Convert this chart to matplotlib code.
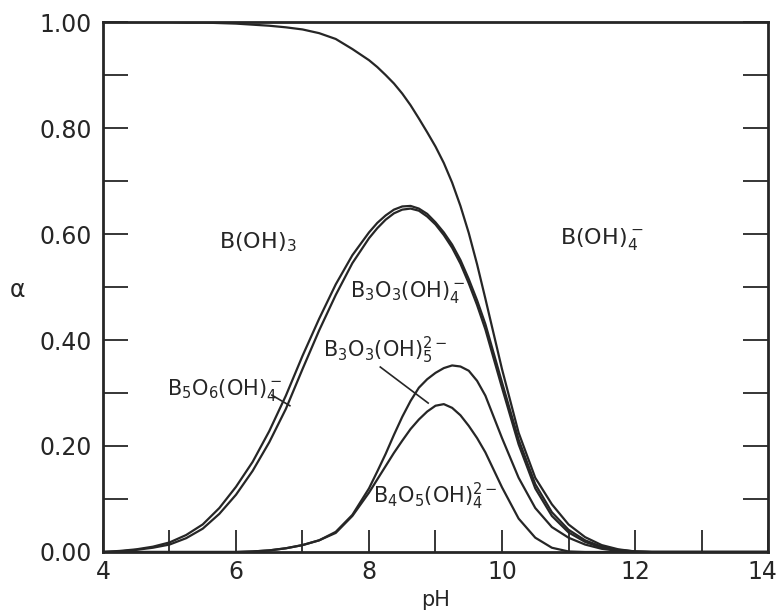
import numpy as np
import matplotlib.pyplot as plt
from matplotlib.ticker import MultipleLocator, FormatStrFormatter, FuncFormatter

plt.rcParams['font.family'] = ['DejaVu Sans']
plt.rcParams['mathtext.default'] = 'regular'

# pH grid (finer around the peaks)
ph = [4.0, 4.25, 4.5, 4.75, 5.0, 5.25, 5.5, 5.75, 6.0, 6.25, 6.5, 6.75,
      7.0, 7.25, 7.5, 7.75,
      8.0, 8.125, 8.25, 8.375, 8.5, 8.625, 8.75, 8.875, 9.0, 9.125, 9.25, 9.375, 9.5, 9.625, 9.75,
      10.0, 10.25, 10.5, 10.75, 11.0, 11.25, 11.5, 11.75, 12.0, 12.25, 12.5, 14.0]

# cumulative fractions (upper boundary of each region)
top_boh3 = [1.000, 1.000, 1.000, 1.000, 1.000, 0.999, 0.999, 0.998, 0.997, 0.995, 0.993, 0.990,
            0.986, 0.979, 0.968, 0.949,
            0.928, 0.915, 0.900, 0.884, 0.865, 0.843, 0.818, 0.792, 0.765, 0.734, 0.697, 0.653, 0.602, 0.543, 0.478,
            0.345, 0.225, 0.140, 0.090, 0.052, 0.028, 0.013, 0.005, 0.001, 0.0, 0.0, 0.0]
b5o6_outer = [0.0, 0.002, 0.005, 0.010, 0.018, 0.032, 0.052, 0.083, 0.123, 0.170, 0.228, 0.295,
              0.370, 0.440, 0.505, 0.560,
              0.603, 0.621, 0.635, 0.646, 0.652, 0.653, 0.648, 0.638, 0.622, 0.603, 0.580, 0.551, 0.515, 0.475, 0.430,
              0.320, 0.212, 0.128, 0.075, 0.042, 0.022, 0.010, 0.004, 0.001, 0.0, 0.0, 0.0]
b3o3_minus = [0.0, 0.001, 0.004, 0.008, 0.014, 0.026, 0.044, 0.072, 0.108, 0.153, 0.207, 0.270,
              0.345, 0.418, 0.485, 0.545,
              0.592, 0.611, 0.627, 0.639, 0.646, 0.648, 0.644, 0.633, 0.618, 0.598, 0.574, 0.544, 0.507, 0.466, 0.420,
              0.310, 0.203, 0.120, 0.068, 0.037, 0.019, 0.008, 0.003, 0.0005, 0.0, 0.0, 0.0]
b3o3_2minus = [0.0, 0.0, 0.0, 0.0, 0.0, 0.0, 0.0, 0.0, 0.0, 0.001, 0.003, 0.007,
               0.013, 0.022, 0.038, 0.070,
               0.120, 0.152, 0.185, 0.221, 0.255, 0.285, 0.310, 0.326, 0.338, 0.347, 0.352, 0.350, 0.342, 0.323, 0.295,
               0.215, 0.140, 0.083, 0.047, 0.027, 0.014, 0.006, 0.002, 0.0, 0.0, 0.0, 0.0]
b4o5 = [0.0, 0.0, 0.0, 0.0, 0.0, 0.0, 0.0, 0.0, 0.0, 0.001, 0.003, 0.007,
        0.013, 0.022, 0.036, 0.068,
        0.112, 0.137, 0.162, 0.187, 0.210, 0.232, 0.250, 0.265, 0.276, 0.279, 0.272, 0.258, 0.238, 0.215, 0.188,
        0.122, 0.063, 0.027, 0.008, 0.001, 0.0, 0.0, 0.0, 0.0, 0.0, 0.0, 0.0]

ink = '#262626'
fig = plt.figure(figsize=(7.79, 6.10), dpi=100)
ax = fig.add_axes([0.1322, 0.0951, 0.8537, 0.8688])

for curve in [top_boh3, b5o6_outer, b3o3_minus, b3o3_2minus, b4o5]:
    ax.plot(ph, curve, color=ink, lw=1.6, solid_joinstyle='round', solid_capstyle='round')

ax.set_xlim(4, 14)
ax.set_ylim(0, 1)
ax.xaxis.set_major_locator(MultipleLocator(2))
ax.xaxis.set_minor_locator(MultipleLocator(1))
# the label at 14 is drawn separately so it stays inside the figure
ax.xaxis.set_major_formatter(FuncFormatter(lambda v, p: '' if v > 13 else '%d' % v))
ax.yaxis.set_major_locator(MultipleLocator(0.2))
ax.yaxis.set_minor_locator(MultipleLocator(0.1))
ax.yaxis.set_major_formatter(FormatStrFormatter('%.2f'))
ax.tick_params(axis='x', which='both', direction='in', length=16, width=1.3,
               top=False, bottom=True, labelsize=17, pad=6, colors=ink)
ax.tick_params(axis='y', which='both', direction='in', length=18, width=1.3,
               left=True, right=True, labelsize=17, pad=8, colors=ink)
for s in ax.spines.values():
    s.set_linewidth(2.0)
    s.set_color(ink)
ax.annotate('14', xy=(14, 0), xycoords=('data', 'axes fraction'), xytext=(-4, -6),
            textcoords='offset points', ha='center', va='top', fontsize=17, color=ink,
            annotation_clip=False)

ax.set_xlabel('pH', fontsize=15, color=ink, labelpad=4)
ax.set_ylabel('α', fontsize=17, color=ink, rotation=0, va='center', ha='center')
ax.yaxis.set_label_coords(-0.128, 0.494)

fs = 15
ax.text(5.75, 0.585, r'B(OH)$_3$', fontsize=fs + 1, color=ink, va='center')
ax.text(10.87, 0.59, r'B(OH)$_4^-$', fontsize=fs + 1, color=ink, va='center')
ax.text(7.71, 0.49, r'B$_3$O$_3$(OH)$_4^-$', fontsize=fs, color=ink, va='center')
ax.text(7.31, 0.38, r'B$_3$O$_3$(OH)$_5^{2-}$', fontsize=fs, color=ink, va='center')
ax.text(4.96, 0.305, r'B$_5$O$_6$(OH)$_4^-$', fontsize=fs, color=ink, va='center')
ax.text(8.06, 0.105, r'B$_4$O$_5$(OH)$_4^{2-}$', fontsize=fs, color=ink, va='center')

# leader lines
ax.plot([8.17, 8.89], [0.349, 0.281], color=ink, lw=1.2)
ax.plot([6.54, 6.81], [0.296, 0.276], color=ink, lw=1.2)

fig.savefig('out.png', dpi=100)
